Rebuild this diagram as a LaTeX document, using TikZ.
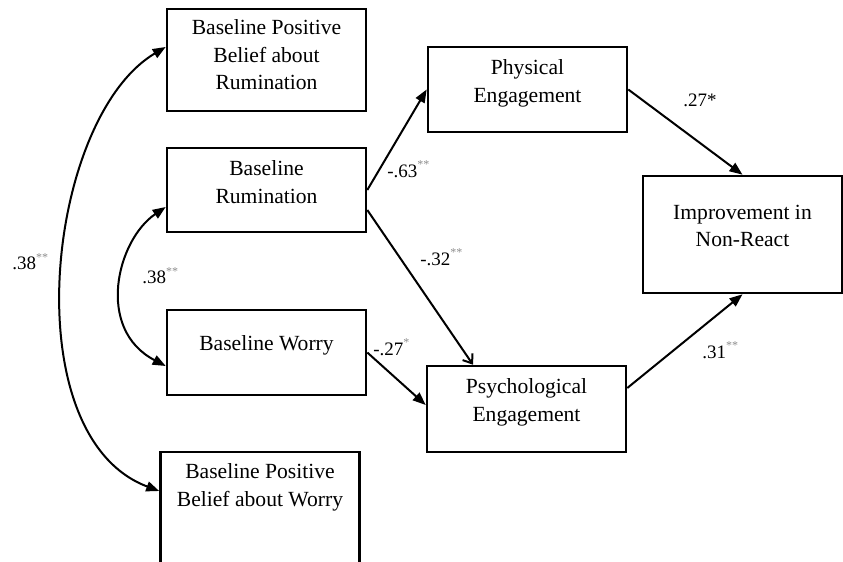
\documentclass[tikz,border=0pt]{standalone}
\usepackage{fontspec}
\setmainfont{Liberation Serif}
\usetikzlibrary{arrows.meta}
\newcommand{\lift}[1]{\rule[-#1]{0pt}{#1}}
\newcommand{\sig}[1]{\raisebox{4.5pt}{\fontsize{6}{6}\selectfont\color{black!45}#1}}

\begin{document}
\begin{tikzpicture}[x=.5pt,y=-.5pt,
  box/.style={draw,line width=1.3pt,minimum width=99.5pt,align=center,inner sep=0pt,font=\fontsize{10.8}{13.75}\selectfont},
  coef/.style={anchor=base west,inner sep=0pt,font=\fontsize{9.5}{11}\selectfont},
  arr/.style={line width=1pt,-{Triangle[length=6.5pt,width=5pt]}},
  dbl/.style={line width=1pt,{Triangle[length=6.5pt,width=5pt]}-{Triangle[length=6.5pt,width=5pt]}}]
\useasboundingbox(0,0)rectangle(843,562);
\node[box,minimum height=51pt](bpbr)at(266.5,60){Baseline Positive\\Belief about\\Rumination\lift{5pt}};
\node[box,minimum height=42pt](rum)at(266.5,190){Baseline\\Rumination\lift{8pt}};
\node[box,minimum height=42.5pt](wor)at(266.5,352.5){Baseline Worry\lift{9pt}};
\node[box,minimum height=57pt](bpbw)at(260,509){Baseline Positive\\Belief about Worry\lift{24pt}};
\node[box,minimum height=42.5pt](phy)at(527.5,89.5){Physical\\Engagement\lift{8.5pt}};
\node[box,minimum height=43pt](psy)at(526.5,409){Psychological\\Engagement\lift{9pt}};
\node[box,minimum height=58.5pt](imp)at(742.5,234.5){Improvement in\\Non-React\lift{8.5pt}};
\draw[arr](rum.east)--(phy.west);
\draw[line width=1pt,-{Straight Barb[length=4pt,width=6pt]}]([yshift=-10pt]rum.east)--([xshift=-26.75pt]psy.north);
\draw[arr](wor.east)--([yshift=2pt]psy.west);
\draw[arr](phy.east)--(imp.north);
\draw[arr]([yshift=10.5pt]psy.east)--(imp.south);
\draw[dbl]([yshift=-8.5pt]rum.west)..controls(117,240)and(95,329)..([yshift=-6.75pt]wor.west);
\draw[dbl]([yshift=6.5pt]bpbr.west)..controls(46,118)and(12.5,436)..([yshift=9pt]bpbw.west);
\node[coef](c1)at(12,270){.38\sig{**}};
\node[coef](c2)at(142,284){.38\sig{**}};
\node[coef](c3)at(387,177){-.63\sig{**}};
\node[coef](c4)at(420,265){-.32\sig{**}};
\node[coef](c5)at(373,355){-.27\sig{*}};
\node[coef](c6)at(683,106){.27*};
\node[coef](c7)at(702,358){.31\sig{**}};
\end{tikzpicture}
\end{document}
